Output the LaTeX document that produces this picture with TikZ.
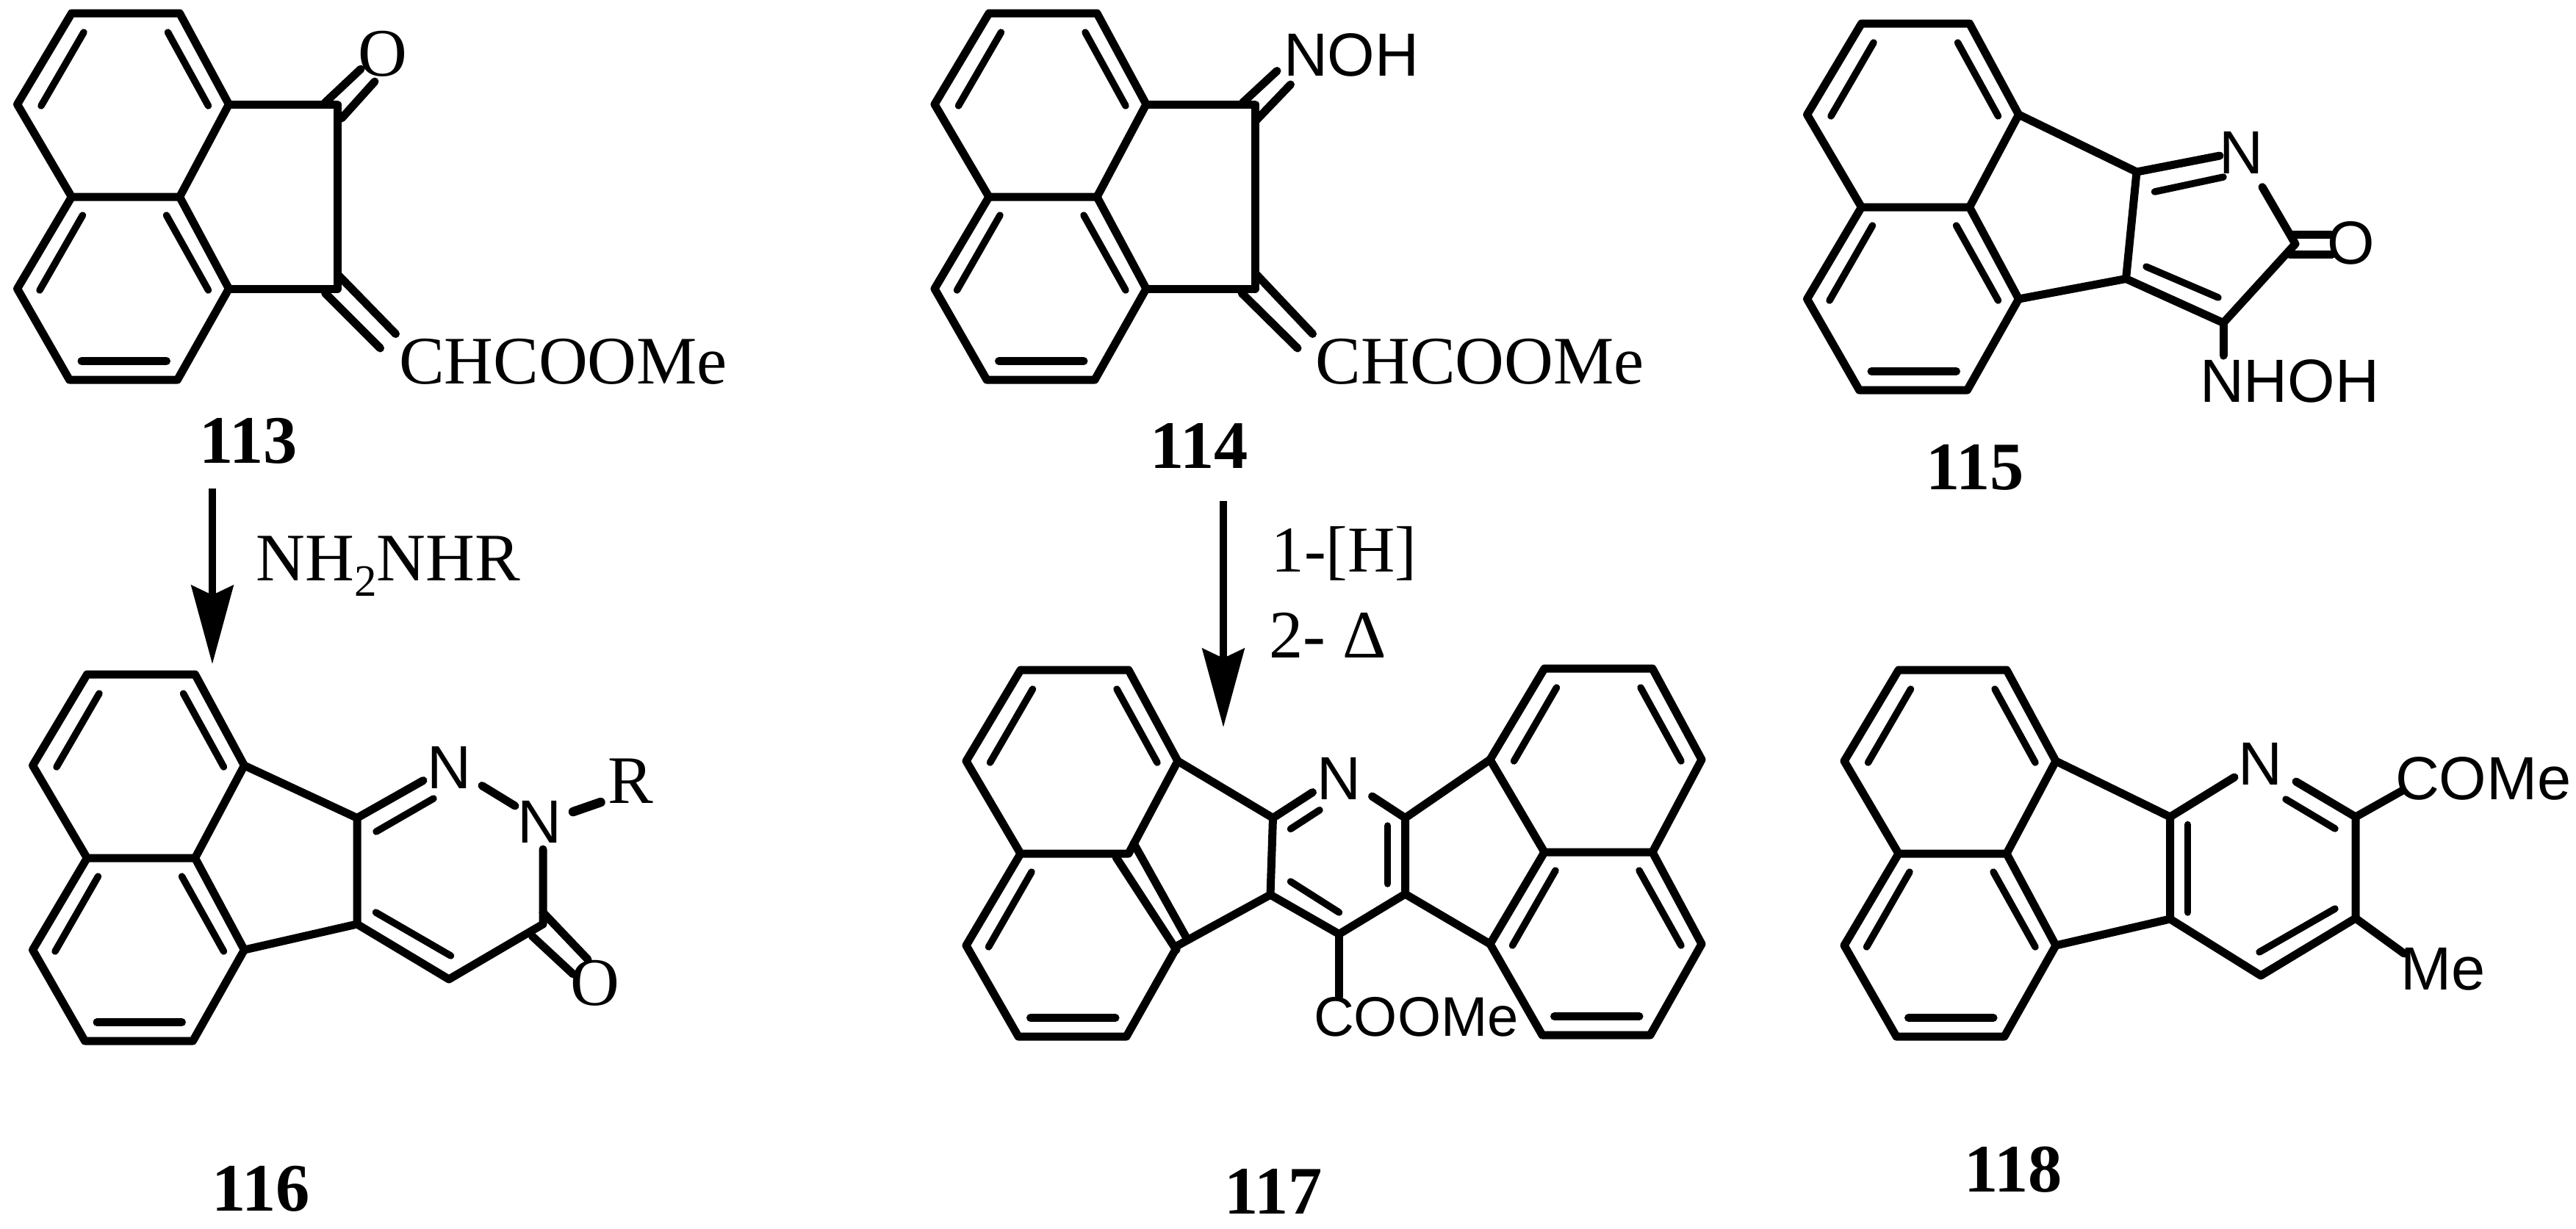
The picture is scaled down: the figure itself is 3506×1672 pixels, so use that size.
\documentclass[tikz,border=0pt]{standalone}
\usepackage{fontspec}
\setmainfont{Liberation Serif}
\newfontfamily\arlf{Liberation Sans}
\usetikzlibrary{arrows.meta}
\tikzset{
  bond/.style={line width=2.2pt,line cap=round,line join=round},
  thickbond/.style={line width=2.5pt,line cap=round,line join=round},
  inbond/.style={line width=1.9pt,line cap=round},
  rxn/.style={line width=1.9pt,-{Stealth[length=21.4pt,width=11.4pt,inset=2.6pt]}},
  lab/.style={inner sep=0pt,outer sep=0pt,anchor=base west,xshift=-1.6pt},
  tm/.style={lab,font=\fontsize{18.5pt}{20pt}\selectfont},
  tmc/.style={inner sep=0pt,anchor=center,font=\fontsize{18.5pt}{20pt}\selectfont},
  num/.style={lab,font=\fontsize{18.5pt}{20pt}\selectfont\bfseries},
  ar/.style={lab,font=\fontsize{16.6pt}{18pt}\selectfont\arlf},
  arc/.style={inner sep=0pt,anchor=center,font=\fontsize{16.6pt}{18pt}\selectfont\arlf},
  ars/.style={lab,font=\fontsize{15.2pt}{18pt}\selectfont\arlf},
}
% naphthalene skeleton: #1 name prefix, (#2,#3) top-left atom
\newcommand{\naphskel}[3]{%
  \begin{scope}[shift={(#2,#3)}]
    \coordinate (#1a) at (0,0);
    \coordinate (#1b) at (147,0);
    \coordinate (#1c) at (214,124);
    \coordinate (#1d) at (147,250);
    \coordinate (#1e) at (0,250);
    \coordinate (#1f) at (-74,124);
    \coordinate (#1g) at (-74,375);
    \coordinate (#1h) at (-3,499);
    \coordinate (#1i) at (144,499);
    \coordinate (#1j) at (214,375);
    \draw[bond] (#1a)--(#1b)--(#1c)--(#1d)--(#1e)--(#1f)--cycle;
    \draw[bond] (#1e)--(#1g)--(#1h)--(#1i)--(#1j);
    \draw[inbond] (16.5,26)--(-41.5,126);
    \draw[inbond] (131,26)--(186,126);
    \draw[inbond] (15,275)--(-43.5,377);
    \draw[inbond,line width=2.2pt] (13.5,473.5)--(129,473.5);
  \end{scope}}
\newcommand{\naphlr}[3]{%
  \begin{scope}[shift={(#2,#3)}]
    \draw[bond] (#1j)--(#1d);
    \draw[inbond] (129,275)--(186,377);
  \end{scope}}
\begin{document}
\begin{tikzpicture}[x=0.2pt,y=-0.2pt]
\useasboundingbox (0,0) rectangle (3506,1672);
\fill[white] (0,0) rectangle (3506,1672);

% ---------- 113
\naphskel{A}{97.5}{18}\naphlr{A}{97.5}{18}
\coordinate (A1) at (459,142);
\coordinate (A2) at (459,393);
\draw[bond] (Ac)--(A1)--(A2)--(Aj);
\draw[bond] (442,140)--(491,94) (465,161)--(510,111);
\draw[bond] (442.5,399)--(517.5,474) (461,375)--(538.5,454.5);
\node[tmc] (Ao) at (521,73) {O};
\node[tm] (Ar) at (551,522.5) {CHCOOMe};
\node[num] (An) at (279,630) {113};

% ---------- 114
\naphskel{B}{1346}{18}\naphlr{B}{1346}{18}
\coordinate (B1) at (1708,142);
\coordinate (B2) at (1708,393);
\draw[bond] (Bc)--(B1)--(B2)--(Bj);
\draw[bond] (1691,140)--(1738,96.5) (1710,163.5)--(1756.5,115);
\draw[bond] (1690,399)--(1766,474) (1710,373.6)--(1786.5,454.5);
\node[ar] (Bo) at (1755,103) {NOH};
\node[tm] (Br) at (1798.5,522.5) {CHCOOMe};
\node[num] (Bn) at (1573.5,637) {114};

% ---------- 115
\naphskel{C}{2533.5}{32}\naphlr{C}{2533.5}{32}
\coordinate (C1) at (2908,234);
\coordinate (C2) at (2893.5,379.5);
\coordinate (C3) at (3026,439.5);
\coordinate (C4) at (3124,332);
\draw[bond] (Cc)--(C1)--(C2)--(Cj);
\draw[bond] (C2)--(C3)--(C4);
\draw[bond] (C1)--(3021,212);
\draw[inbond] (2932.5,261)--(3026,241);
\draw[inbond] (2921,363)--(3019,405);
\draw[bond] (3079,254.6)--(C4);
\draw[bond] (3120,319)--(3172.5,319) (3116,346)--(3174,346);
\draw[bond] (C3)--(3026,484);
\node[ar] (Cnn) at (3028.5,236) {N};
\node[arc] (Co) at (3200,331) {O};
\node[ar] (Cr) at (3002,547) {NHOH};
\node[num] (Cn) at (2629,666) {115};

% ---------- 116
\naphskel{D}{118.5}{918}\naphlr{D}{118.5}{918}
\coordinate (D1) at (486,1113.4);
\coordinate (D2) at (486,1258);
\coordinate (D3) at (739,1258);
\coordinate (D4) at (611,1333);
\draw[bond] (Dc)--(D1)--(D2)--(Dj);
\draw[bond] (D2)--(D4)--(D3)--(739,1156);
\draw[bond] (D1)--(576,1062.5);
\draw[inbond] (512,1132)--(590,1087);
\draw[bond] (656,1069.5)--(701,1097);
\draw[thickbond] (780,1105)--(817.5,1092);
\draw[inbond] (511.5,1242)--(613.5,1301);
\draw[bond] (739,1242)--(800,1306) (724,1274)--(780,1326);
\node[ar] (Dn1) at (589,1073) {N};
\node[ar] (Dn2) at (712.5,1147) {N};
\node[tm] (Dr) at (835,1093) {R};
\node[tmc] (Do) at (810,1338.5) {O};
\node[num] (Dn) at (296,1648) {116};

% ---------- 117
\naphskel{E}{1389}{912}
\coordinate (E1) at (1732.5,1113.4);
\coordinate (E2) at (1729,1218);
\coordinate (E3) at (1822.5,1271.5);
\coordinate (E4) at (1912.5,1217);
\coordinate (E5) at (1912.5,1113.4);
\coordinate (Ex1) at (1519,1167);
\coordinate (Ex2) at (1601,1293);
\coordinate (Ex3) at (1543,1148);
\coordinate (Ex4) at (1615,1277);
\draw[bond] (Ex1)--(Ex2) (Ex3)--(Ex4);
\draw[bond] (Ec)--(E1)--(E2)--(Ej);
\draw[bond] (E2)--(E3)--(E4)--(E5);
\draw[bond] (E1)--(1786.5,1078.5);
\draw[inbond] (1756.5,1128.4)--(1796,1102.7);
\draw[bond] (1867.5,1084)--(E5);
\draw[inbond] (1888.5,1124)--(1888.5,1203);
\draw[inbond] (1756.5,1200)--(1822.5,1242);
\draw[bond] (E3)--(1822.5,1357);
\naphskel{F}{2102}{910}\naphlr{F}{2102}{910}
\draw[bond] (E5)--(Ff) (E4)--(Fg);
\node[ar] (En1) at (1800,1088) {N};
\node[ars] (Er) at (1796,1410) {COOMe};
\node[num] (En) at (1674,1652) {117};

% ---------- 118
\naphskel{G}{2584}{912}\naphlr{G}{2584}{912}
\coordinate (G1) at (2953.5,1112);
\coordinate (G2) at (2953.5,1251);
\coordinate (G3) at (3206,1112);
\coordinate (G4) at (3206,1250);
\coordinate (G5) at (3077,1328);
\draw[bond] (Gc)--(G1)--(G2)--(Gj);
\draw[bond] (G1)--(3041,1058);
\draw[bond] (3125,1064)--(G3)--(G4)--(G5)--(G2);
\draw[inbond] (3111,1088)--(3178,1128);
\draw[inbond] (2977.5,1122.5)--(2977.5,1242);
\draw[inbond] (3178,1237)--(3075,1296);
\draw[bond] (G3)--(3270,1076);
\draw[bond] (G4)--(3272,1298);
\node[ar] (Gn1) at (3054,1068) {N};
\node[ar] (Gr) at (3268,1088) {COMe};
\node[ar] (Gm) at (3275,1347) {Me};
\node[num] (Gn) at (2681,1622.6) {118};

% ---------- reactions
\coordinate (R1s) at (289,665);
\coordinate (R1e) at (289,904);
\draw[rxn] (R1s)--(R1e);
\node[tm] (R1t) at (356.5,790.6) {NH\raisebox{-0.23em}{\fontsize{12.2pt}{12pt}\selectfont 2}NHR};
\coordinate (R2s) at (1665,682);
\coordinate (R2e) at (1665,990);
\draw[rxn] (R2s)--(R2e);
\node[tm,font=\fontsize{17.8pt}{20pt}\selectfont] (R2t) at (1738.5,778) {1-[H]};
\node[tm] (R2u) at (1735,895) {2- Δ};
\end{tikzpicture}
\end{document}
